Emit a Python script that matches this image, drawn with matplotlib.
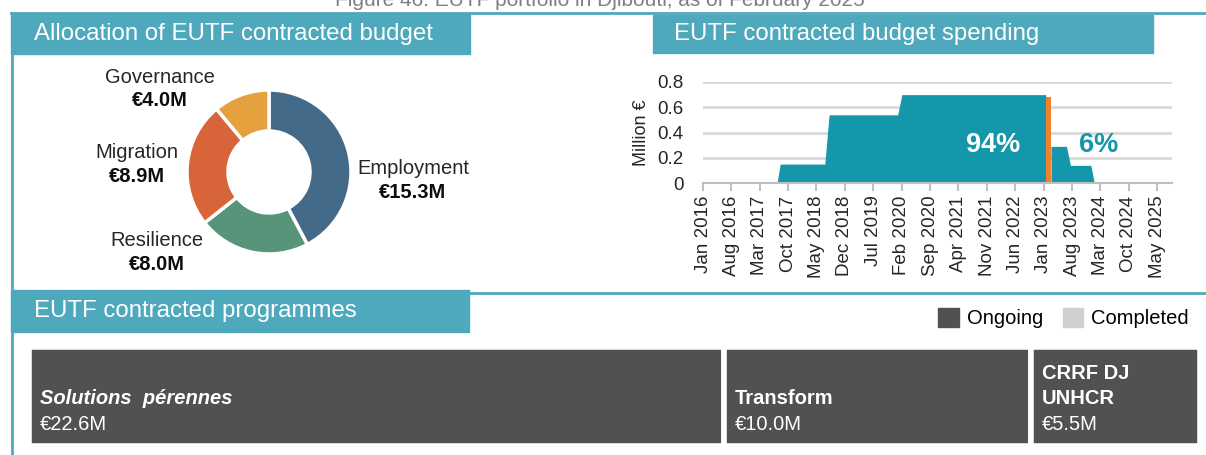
import matplotlib
matplotlib.use("Agg")
import matplotlib.pyplot as plt
from matplotlib.patches import Rectangle, Patch
import pandas as pd

plt.rcParams['font.family'] = ['Liberation Sans', 'DejaVu Sans']

# budget allocation by sector (million EUR)
sectors = ["Employment", "Resilience", "Migration", "Governance"]
sector_budget = [15.3, 8.0, 8.9, 4.0]
sector_colors = ["#446a8a", "#57947a", "#d8643a", "#e4a13e"]

# monthly spending profile (million EUR)
spent_dates = ["2016-01-01", "2017-07-10", "2017-08-02", "2018-07-03", "2018-08-04",
               "2020-01-01", "2020-02-01", "2023-01-16"]
spent_values = [0, 0, 0.15, 0.15, 0.54, 0.54, 0.70, 0.70]
current_start = "2023-01-16"
current_end = "2023-02-24"
current_value = 0.68
remaining_dates = ["2023-02-24", "2023-06-20", "2023-07-20", "2023-12-20", "2024-01-15"]
remaining_values = [0.29, 0.29, 0.14, 0.14, 0]
spent_share = "94%"
remaining_share = "6%"
tick_months = ["Jan 2016", "Aug 2016", "Mar 2017", "Oct 2017", "May 2018", "Dec 2018",
               "Jul 2019", "Feb 2020", "Sep 2020", "Apr 2021", "Nov 2021", "Jun 2022",
               "Jan 2023", "Aug 2023", "Mar 2024", "Oct 2024", "May 2025"]
y_ticks = [0, 0.2, 0.4, 0.6, 0.8]
y_tick_labels = ["0", "0.2", "0.4", "0.6", "0.8"]

# contracted programmes (million EUR)
programmes = ["Solutions  pérennes", "Transform", "CRRF DJ\nUNHCR"]
programme_budget = [22.6, 10.0, 5.5]
programme_italic = [True, False, False]

TEAL = "#4fa9bd"
W, H = 1206, 455
fig = plt.figure(figsize=(W / 100, H / 100), dpi=100)


def fx(x):
    return x / W


def fy(y):
    return 1 - y / H


def box(x0, y0, x1, y1, **kw):
    fig.add_artist(Rectangle((fx(x0), fy(y1)), (x1 - x0) / W, (y1 - y0) / H,
                             transform=fig.transFigure, **kw))


def ftext(x, y, s, **kw):
    fig.text(fx(x), fy(y), s, **kw)


# frame lines and section headers
fig.add_artist(plt.Line2D([fx(11), fx(1206)], [fy(13), fy(13)], color=TEAL, lw=2))
fig.add_artist(plt.Line2D([fx(12), fx(12)], [fy(13), fy(455)], color=TEAL, lw=2))
fig.add_artist(plt.Line2D([fx(469), fx(1206)], [fy(293), fy(293)], color=TEAL, lw=2))
box(11, 13, 470, 54, color=TEAL)
box(653, 15, 1153, 53, color=TEAL)
box(11, 290, 469, 332, color=TEAL)
ftext(600, 0, "Figure 46: EUTF portfolio in Djibouti, as of February 2025",
      ha="center", va="center", fontsize=15, color="#7f7f7f")
ftext(34, 34, "Allocation of EUTF contracted budget", color="white", fontsize=17.3, va="center")
ftext(674, 34, "EUTF contracted budget spending", color="white", fontsize=17.3, va="center")
ftext(34, 311, "EUTF contracted programmes", color="white", fontsize=17.3, va="center")

# donut
r = 82
ax_d = fig.add_axes([fx(269 - r), fy(172 + r), 2 * r / W, 2 * r / H])
ax_d.pie(sector_budget, colors=sector_colors, startangle=90, counterclock=False, radius=1,
         wedgeprops=dict(width=0.5, edgecolor="white", linewidth=2.5))
ax_d.set_xlim(-1, 1)
ax_d.set_ylim(-1, 1)
ax_d.axis("off")
label_pos = {"Employment": (413, 169), "Resilience": (157, 241),
             "Migration": (137, 153), "Governance": (160, 77)}
for name, val in zip(sectors, sector_budget):
    lx, ly = label_pos[name]
    ftext(lx, ly, name, ha="center", va="center", fontsize=14.5, color="#262626")
    ftext(lx, ly + 24, f"€{val:.1f}M", ha="center", va="center", fontsize=14.5,
          fontweight="bold", color="#0d0d0d")

# spending area chart
ax = fig.add_axes([fx(703), fy(183), (1172 - 703) / W, (183 - 82) / H])
area_col = "#1497aa"
ax.fill_between(pd.to_datetime(spent_dates), spent_values, color=area_col, lw=0)
ax.fill_between(pd.to_datetime(remaining_dates), remaining_values, color=area_col, lw=0)
c0, c1 = pd.Timestamp(current_start), pd.Timestamp(current_end)
ax.fill_between([c0, c1], [current_value, current_value], color="#f0812e", lw=0)
ax.set_ylim(0, 0.8)
ax.set_xlim(pd.Timestamp("2016-01-01"), pd.Timestamp("2025-08-20"))
ax.set_yticks(y_ticks)
ax.set_yticklabels(y_tick_labels)
ax.set_xticks(pd.to_datetime(tick_months, format="%b %Y"))
ax.set_xticklabels(tick_months, rotation=90)
ax.tick_params(axis="x", length=6, color="#bfbfbf", width=1.5, labelsize=13.5,
               labelcolor="#262626", pad=3)
ax.tick_params(axis="y", length=0, labelsize=13.5, labelcolor="#262626", pad=14)
ax.grid(axis="y", color="#d9d9d9", lw=2)
ax.set_axisbelow(True)
for s in ["top", "right", "left"]:
    ax.spines[s].set_visible(False)
ax.spines["bottom"].set_color("#bfbfbf")
ax.spines["bottom"].set_linewidth(1.5)
ax.set_ylabel("Million €", fontsize=13, color="#262626", labelpad=5)
ax.text(pd.Timestamp("2021-12-15"), 0.30, spent_share, color="white", fontsize=19.5,
        fontweight="bold", ha="center", va="center")
ax.text(pd.Timestamp("2024-02-20"), 0.30, remaining_share, color=area_col, fontsize=19.5,
        fontweight="bold", ha="center", va="center")

# programmes treemap (single row)
ax_t = fig.add_axes([fx(29), fy(446), (1200 - 29) / W, (446 - 347) / H])
lefts = [sum(programme_budget[:i]) for i in range(len(programme_budget))]
ax_t.bar(lefts, [1] * len(programme_budget), width=programme_budget, align="edge",
         color="#505150", edgecolor="white", linewidth=4)
for left, name, val, ital in zip(lefts, programmes, programme_budget, programme_italic):
    lines = name.split("\n")
    for k, line in enumerate(lines):
        ax_t.text(left + 0.35, 0.475 + 0.262 * (len(lines) - 1 - k), line, color="white",
                  fontsize=14.5, va="center", fontweight="bold",
                  fontstyle="italic" if ital else "normal")
    ax_t.text(left + 0.35, 0.22, f"€{val:.1f}M", color="white", fontsize=14.5, va="center")
ax_t.set_xlim(0, sum(programme_budget))
ax_t.set_ylim(0, 1)
ax_t.axis("off")

fig.legend(handles=[Patch(color="#505150", label="Ongoing"), Patch(color="#d0d0d0", label="Completed")],
           loc="center right", bbox_to_anchor=(fx(1207), fy(318)), ncol=2, frameon=False,
           fontsize=14.5, handlelength=1.0, handleheight=1.1, handletextpad=0.4, columnspacing=1.0)

fig.savefig("out.png", dpi=100)
